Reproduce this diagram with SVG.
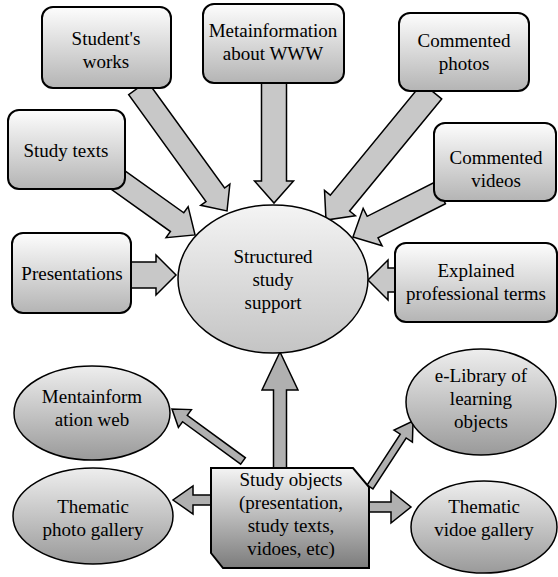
<svg xmlns="http://www.w3.org/2000/svg" width="558" height="577" viewBox="0 0 558 577">
<defs>
<linearGradient id="gBox" x1="0" y1="0" x2="0" y2="1">
<stop offset="0" stop-color="#fdfdfd"/><stop offset="1" stop-color="#b4b4b4"/>
</linearGradient>
<linearGradient id="gCenter" x1="0" y1="0" x2="0" y2="1">
<stop offset="0" stop-color="#f4f4f4"/><stop offset="1" stop-color="#c4c4c4"/>
</linearGradient>
<linearGradient id="gEll" x1="0" y1="0" x2="0" y2="1">
<stop offset="0" stop-color="#eeeeee"/><stop offset="1" stop-color="#9a9a9a"/>
</linearGradient>
<linearGradient id="gObj" x1="0" y1="0" x2="0" y2="1">
<stop offset="0" stop-color="#f4f4f4"/><stop offset="1" stop-color="#7c7c7c"/>
</linearGradient>
</defs>
<style>
.box{fill:url(#gBox);stroke:#000;stroke-width:2}
.ell{fill:url(#gEll);stroke:#000;stroke-width:1.5}
.arr{fill:#c8c8c8;stroke:#000;stroke-width:1.5;stroke-linejoin:miter}
.arr2{fill:#b0b0b0;stroke:#000;stroke-width:1.5;stroke-linejoin:miter}
text{font-family:'Liberation Serif',serif;font-size:19px;fill:#000;text-anchor:middle}
</style>
<g id="connectors">
<polygon class="arr" transform="translate(138,88) rotate(54.1)" points="0,-11.5 131.8,-11.5 131.8,-18 151.8,0 131.8,18 131.8,11.5 0,11.5"/>
<polygon class="arr" transform="translate(274,83) rotate(90)" points="0,-12.5 98,-12.5 98,-19.5 120,0 98,19.5 98,12.5 0,12.5"/>
<polygon class="arr" transform="translate(432,91) rotate(129.4)" points="0,-12.5 145,-12.5 145,-20 167,0 145,20 145,12.5 0,12.5"/>
<polygon class="arr" transform="translate(440,193) rotate(153.2)" points="0,-12 75.5,-12 75.5,-21 97.5,0 75.5,21 75.5,12 0,12"/>
<polygon class="arr" transform="translate(118,180) rotate(35.5)" points="0,-11.5 72.6,-11.5 72.6,-19 94.6,0 72.6,19 72.6,11.5 0,11.5"/>
<polygon class="arr" transform="translate(131,275)" points="0,-13 25,-13 25,-20 45,0 25,20 25,13 0,13"/>
<polygon class="arr" transform="translate(395,280) rotate(180)" points="0,-12 7,-12 7,-20 27,0 7,20 7,12 0,12"/>
<polygon class="arr2" transform="translate(280,468) rotate(-90)" points="0,-6.5 78,-6.5 78,-18 116,0 78,18 78,6.5 0,6.5"/>
<polygon class="arr2" transform="translate(243,461) rotate(-143.8)" points="0,-4 72,-4 72,-11 88,0 72,11 72,4 0,4"/>
<polygon class="arr2" transform="translate(370,487) rotate(-56.9)" points="0,-3.5 60.8,-3.5 60.8,-11 78.8,0 60.8,11 60.8,3.5 0,3.5"/>
<polygon class="arr2" transform="translate(211,500) rotate(180)" points="0,-5 18,-5 18,-14 38,0 18,14 18,5 0,5"/>
<polygon class="arr2" transform="translate(369,507)" points="0,-5 22,-5 22,-16 42,0 22,16 22,5 0,5"/>
</g>
<g font-family="Liberation Serif, serif">
<g id="students-works">
<rect class="box" x="42" y="7" width="129" height="81" rx="11"/>
<text x="106" y="45">Student's</text><text x="106" y="68">works</text>
</g>
<g id="metainformation">
<rect class="box" x="203" y="4" width="141" height="79" rx="11"/>
<text x="273" y="37">Metainformation</text><text x="273" y="60">about WWW</text>
</g>
<g id="commented-photos">
<rect class="box" x="399" y="13" width="130" height="78" rx="11"/>
<text x="464" y="47">Commented</text><text x="464" y="70">photos</text>
</g>
<g id="study-texts">
<rect class="box" x="8" y="110" width="117" height="79" rx="11"/>
<text x="66" y="157">Study texts</text>
</g>
<g id="commented-videos">
<rect class="box" x="434" y="123" width="122" height="78" rx="11"/>
<text x="496" y="164">Commented</text><text x="496" y="187">videos</text>
</g>
<g id="presentations">
<rect class="box" x="12" y="233" width="119" height="80" rx="11"/>
<text x="72" y="280">Presentations</text>
</g>
<g id="explained-terms">
<rect class="box" x="395" y="243" width="162" height="79" rx="11"/>
<text x="476" y="277">Explained</text><text x="476" y="300">professional terms</text>
</g>
<g id="structured-study-support">
<ellipse cx="273" cy="279" rx="95" ry="74" fill="url(#gCenter)" stroke="#000" stroke-width="1.5"/>
<text x="273" y="263">Structured</text><text x="273" y="286">study</text><text x="273" y="309">support</text>
</g>
<g id="mentainformation-web">
<ellipse class="ell" cx="92" cy="413" rx="78" ry="47"/>
<text x="92" y="403">Mentainform</text><text x="92" y="426">ation web</text>
</g>
<g id="e-library">
<ellipse class="ell" cx="481" cy="402" rx="75" ry="53"/>
<text x="481" y="382">e-Library of</text><text x="481" y="405">learning</text><text x="481" y="428">objects</text>
</g>
<g id="thematic-photo-gallery">
<ellipse class="ell" cx="93" cy="516" rx="80" ry="48"/>
<text x="93" y="513">Thematic</text><text x="93" y="536">photo gallery</text>
</g>
<g id="thematic-video-gallery">
<ellipse class="ell" cx="484" cy="527" rx="73" ry="46"/>
<text x="484" y="513">Thematic</text><text x="484" y="536">vidoe gallery</text>
</g>
<g id="study-objects">
<polygon points="211,468 353,468 369,487 369,568 223,568 211,553" fill="url(#gObj)" stroke="#000" stroke-width="2"/>
<text x="291" y="486">Study objects</text><text x="291" y="509">(presentation,</text><text x="291" y="532">study texts,</text><text x="291" y="555">vidoes, etc)</text>
</g>
</g>
</svg>
